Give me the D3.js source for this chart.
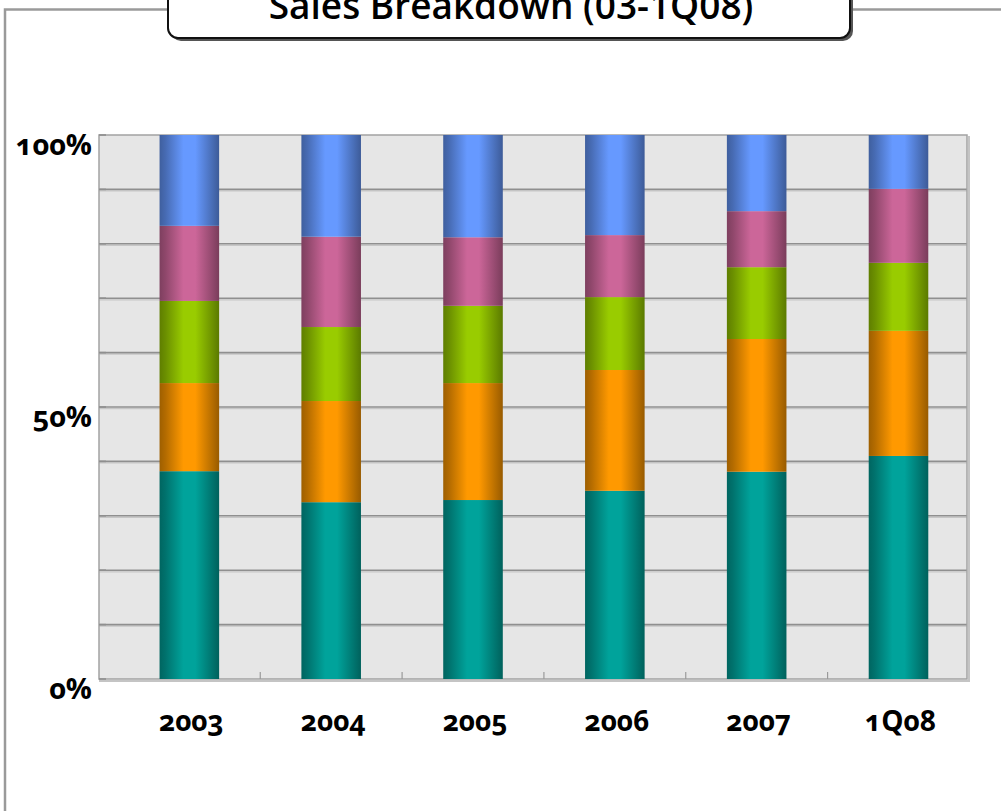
<!DOCTYPE html>
<html>
<head>
<meta charset="utf-8">
<script src="https://cdn.jsdelivr.net/npm/d3@7/dist/d3.min.js"></script>
<style>
  html, body { margin: 0; padding: 0; background: #fff; }
  svg { display: block; }
  .lbl { font-family: "Open Sans", "Lato", sans-serif; font-weight: 700; fill: #000;
         font-variant-numeric: oldstyle-nums; font-feature-settings: "onum" 1; }
  .ttl { font-family: "Open Sans", "Lato", sans-serif; font-weight: 600; fill: #000; }
</style>
</head>
<body>
<svg id="chart" width="1001" height="811"></svg>
<script>
// Periods shown along the x axis
const periods = ["2003", "2004", "2005", "2006", "2007", "1Q08"];

// Share of sales per segment (percent), stacked bottom to top
const segmentA = [38.2, 32.5, 32.9, 34.6, 38.1, 41.0];
const segmentB = [16.2, 18.6, 21.5, 22.2, 24.4, 23.0];
const segmentC = [15.1, 13.6, 14.2, 13.4, 13.2, 12.5];
const segmentD = [13.8, 16.6, 12.6, 11.4, 10.3, 13.6];
const segmentE = [16.7, 18.7, 18.8, 18.4, 14.0, 9.9];

const yTicks = [0, 50, 100];
const yTickLabels = ["0%", "50%", "100%"];
const title = "Sales Breakdown (03-1Q08)";

const seriesKeys = ["a", "b", "c", "d", "e"];
const seriesColors = ["#00A39B", "#FF9900", "#99CC00", "#CC6699", "#6699FF"];

const rows = periods.map((p, i) => ({
  period: p,
  a: segmentA[i], b: segmentB[i], c: segmentC[i], d: segmentD[i], e: segmentE[i]
}));

const svg = d3.select("#chart");
const W = 1001, H = 811;
const plot = { left: 99, right: 967, top: 135, bottom: 679 };

svg.append("rect").attr("width", W).attr("height", H).attr("fill", "#fff");

// Outer frame: gray rule across the top and down the left side
const frame = svg.append("g").attr("stroke", "#9a9a9a").attr("stroke-width", 2.5).attr("fill", "none");
frame.append("path").attr("d", `M5,${H + 2} V9.5 H168`);
frame.append("path").attr("d", `M850,9.5 H${W + 2}`);

// Title box (partly above the top edge)
const tb = { x: 168, y: -30, w: 682, h: 68, r: 10 };
svg.append("rect")
  .attr("x", tb.x + 3).attr("y", tb.y + 3).attr("width", tb.w).attr("height", tb.h)
  .attr("rx", tb.r).attr("fill", "#555");
svg.append("rect")
  .attr("x", tb.x).attr("y", tb.y).attr("width", tb.w).attr("height", tb.h)
  .attr("rx", tb.r).attr("fill", "#fff").attr("stroke", "#111").attr("stroke-width", 2);
svg.append("text").attr("class", "ttl")
  .attr("x", tb.x + tb.w / 2 + 2).attr("y", 19)
  .attr("text-anchor", "middle").attr("font-size", 37)
  .text(title);

// Scales
const x = d3.scaleBand()
  .domain(periods)
  .range([plot.left, plot.right])
  .paddingInner(0.58)
  .paddingOuter(0.35)
  .align(0.61);
const y = d3.scaleLinear().domain([0, 100]).range([plot.bottom, plot.top]);

// Plot background
svg.append("rect")
  .attr("x", plot.left).attr("y", plot.top)
  .attr("width", plot.right - plot.left).attr("height", plot.bottom - plot.top)
  .attr("fill", "#E6E6E6");

// Horizontal gridlines every 10%, each with a soft shadow line
const grid = d3.range(10, 100, 10);
const gg = svg.append("g");
gg.selectAll("line.sh").data(grid).join("line")
  .attr("x1", plot.left).attr("x2", plot.right)
  .attr("y1", d => y(d) + 1.6).attr("y2", d => y(d) + 1.6)
  .attr("stroke", "#c6c6c6").attr("stroke-width", 1.2);
gg.selectAll("line.gl").data(grid).join("line")
  .attr("x1", plot.left).attr("x2", plot.right)
  .attr("y1", d => y(d)).attr("y2", d => y(d))
  .attr("stroke", "#8f8f8f").attr("stroke-width", 1.6);

// Plot border with shadow on the right and bottom
const border = svg.append("g").attr("fill", "none");
border.append("path")
  .attr("d", `M${plot.right + 2},${plot.top + 1} V${plot.bottom + 2} H${plot.left}`)
  .attr("stroke", "#c4c4c4").attr("stroke-width", 2);
border.append("rect")
  .attr("x", plot.left).attr("y", plot.top)
  .attr("width", plot.right - plot.left).attr("height", plot.bottom - plot.top)
  .attr("stroke", "#a2a2a2").attr("stroke-width", 1.5);

// Category tick marks between bars
const centers = periods.map(p => x(p) + x.bandwidth() / 2);
const tickXs = d3.range(1, periods.length).map(i => (centers[i - 1] + centers[i]) / 2);
svg.append("g").selectAll("line").data(tickXs).join("line")
  .attr("x1", d => d).attr("x2", d => d)
  .attr("y1", plot.bottom - 7).attr("y2", plot.bottom)
  .attr("stroke", "#9a9a9a").attr("stroke-width", 1.2);

// Small ticks at the value axis
svg.append("g").selectAll("line").data(d3.range(0, 101, 10)).join("line")
  .attr("x1", plot.left).attr("x2", plot.left + 7)
  .attr("y1", d => y(d)).attr("y2", d => y(d))
  .attr("stroke", "#8f8f8f").attr("stroke-width", 1.6);

// Cylinder-like horizontal shading for each segment
const defs = svg.append("defs");
seriesKeys.forEach((k, i) => {
  const base = d3.color(seriesColors[i]);
  const g = defs.append("linearGradient").attr("id", "grad-" + k)
    .attr("x1", "0%").attr("x2", "100%").attr("y1", "0%").attr("y2", "0%");
  const stops = [
    [0, base.darker(1.35)],
    [0.1, base.darker(1.0)],
    [0.4, base],
    [0.6, base],
    [0.86, base.darker(0.85)],
    [1, base.darker(1.45)]
  ];
  stops.forEach(([o, c]) => g.append("stop").attr("offset", o).attr("stop-color", c.formatHex()));
});

const stacked = d3.stack().keys(seriesKeys)(rows);
svg.append("g").selectAll("g").data(stacked).join("g")
  .attr("fill", d => `url(#grad-${d.key})`)
  .selectAll("rect").data(d => d).join("rect")
  .attr("x", d => x(d.data.period))
  .attr("width", x.bandwidth())
  .attr("y", d => y(d[1]))
  .attr("height", d => y(d[0]) - y(d[1]));

// Value axis labels
svg.append("g").selectAll("text").data(yTicks).join("text")
  .attr("class", "lbl")
  .attr("x", 92).attr("y", d => y(d) + 20)
  .attr("text-anchor", "end").attr("font-size", 29)
  .text((d, i) => yTickLabels[i]);

// Category labels
svg.append("g").selectAll("text").data(periods).join("text")
  .attr("class", "lbl")
  .attr("x", d => x(d) + x.bandwidth() / 2 + 2).attr("y", 731)
  .attr("text-anchor", "middle").attr("font-size", 28)
  .text(d => d);
</script>
</body>
</html>
